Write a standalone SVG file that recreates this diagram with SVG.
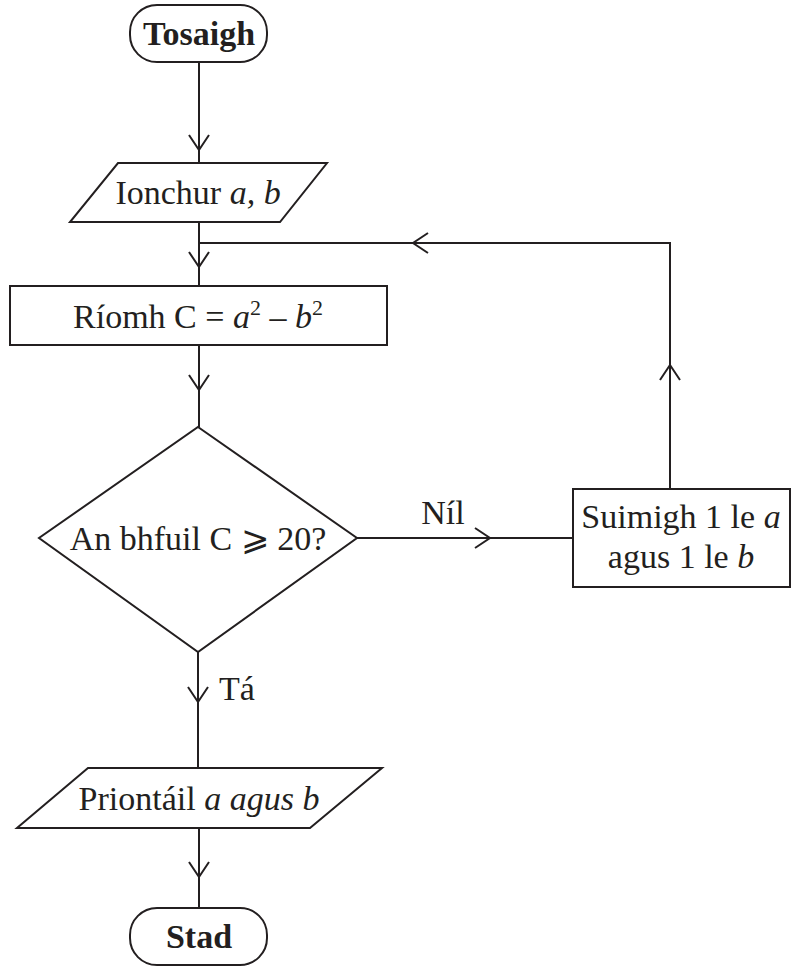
<svg xmlns="http://www.w3.org/2000/svg" width="792" height="968" viewBox="0 0 792 968">
<style>
.s{fill:#fff;stroke:#231f20;stroke-width:2}
.l{fill:none;stroke:#231f20;stroke-width:2}
.t{font-family:"Liberation Serif","Times New Roman",serif;font-size:34px;fill:#231f20;text-anchor:middle}
.b{font-weight:bold}
.i{font-style:italic}
.sup{font-size:22px}
</style>
<defs>
<marker id="ah" viewBox="-16 -11 18 22" markerWidth="18" markerHeight="22" refX="0" refY="0" orient="auto" markerUnits="userSpaceOnUse">
<path d="M-15,-10 L0,0 L-15,10" fill="none" stroke="#231f20" stroke-width="2"/>
</marker>
</defs>
<rect width="792" height="968" fill="#fff"/>
<g id="connectors">
<line class="l" x1="199" y1="62" x2="199" y2="163"/>
<line class="l" x1="199" y1="62" x2="199" y2="150" marker-end="url(#ah)"/>
<line class="l" x1="199" y1="222" x2="199" y2="286"/>
<line class="l" x1="199" y1="222" x2="199" y2="267" marker-end="url(#ah)"/>
<line class="l" x1="199" y1="345" x2="199" y2="427"/>
<line class="l" x1="199" y1="345" x2="199" y2="390" marker-end="url(#ah)"/>
<line class="l" x1="198" y1="652" x2="198" y2="768"/>
<line class="l" x1="198" y1="652" x2="198" y2="702" marker-end="url(#ah)"/>
<line class="l" x1="199" y1="828" x2="199" y2="908"/>
<line class="l" x1="199" y1="828" x2="199" y2="877" marker-end="url(#ah)"/>
<line class="l" x1="357" y1="538" x2="573" y2="538"/>
<line class="l" x1="357" y1="538" x2="490" y2="538" marker-end="url(#ah)"/>
<polyline class="l" points="670,489 670,243 199,243"/>
<line class="l" x1="670" y1="489" x2="670" y2="365" marker-end="url(#ah)"/>
<line class="l" x1="670" y1="243" x2="413" y2="243" marker-end="url(#ah)"/>
<text class="t" x="443" y="524" font-size="28">Níl</text>
<text class="t" x="237" y="700" style="text-anchor:middle">Tá</text>
</g>
<g id="start">
<rect class="s" x="130" y="5" width="137" height="57" rx="27"/>
<text class="t b" x="199" y="45">Tosaigh</text>
</g>
<g id="input">
<polygon class="s" points="118,163 327,163 280,222 70,222"/>
<text class="t" x="198" y="204">Ionchur <tspan class="i">a, b</tspan></text>
</g>
<g id="compute">
<rect class="s" x="10" y="286" width="377" height="59"/>
<text class="t" x="198" y="328">Ríomh C = <tspan class="i">a</tspan><tspan class="sup" dy="-13">2</tspan><tspan dy="13"> – </tspan><tspan class="i">b</tspan><tspan class="sup" dy="-13">2</tspan></text>
</g>
<g id="decision">
<polygon class="s" points="198,427 357,538 198,652 39,538"/>
<text class="t" x="198" y="550">An bhfuil C ⩾ 20?</text>
</g>
<g id="increment">
<rect class="s" x="573" y="489" width="217" height="98"/>
<text class="t" x="681" y="528">Suimigh 1 le <tspan class="i">a</tspan></text>
<text class="t" x="681" y="568">agus 1 le <tspan class="i">b</tspan></text>
</g>
<g id="print">
<polygon class="s" points="88,768 382,768 310,828 17,828"/>
<text class="t" x="199" y="810">Priontáil <tspan class="i">a agus b</tspan></text>
</g>
<g id="stop">
<rect class="s" x="130" y="908" width="137" height="57" rx="27"/>
<text class="t b" x="199" y="948">Stad</text>
</g>
</svg>
